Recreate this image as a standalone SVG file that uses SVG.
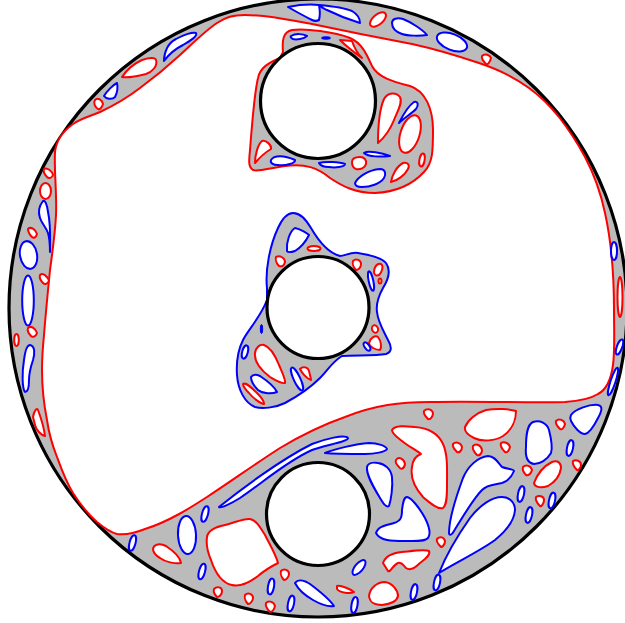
<svg xmlns="http://www.w3.org/2000/svg" width="625" height="623" viewBox="0 0 625 623">
<style>
.disc{fill:#bbb;stroke:#000;stroke-width:3.2}
.hole{fill:#fff;stroke:#000;stroke-width:3.2}
.r{fill:#fff;stroke:#f00;stroke-width:2;stroke-linejoin:round}
.b{fill:#fff;stroke:#00f;stroke-width:2;stroke-linejoin:round}
.gr{fill:#bbb;stroke:#f00;stroke-width:2}
.gb{fill:#bbb;stroke:#00f;stroke-width:2}
</style>
<rect width="625" height="623" fill="#fff"/>
<g id="disc"><circle class="disc" cx="318" cy="308" r="309"/></g>
<g id="main-region"><path class="r" d="M55,152 C56,142 62,132 73,124 C82,118 91,116 100,112 C115,105 127,98 140,88 C155,77 167,67 180,55 C193,43 205,31 217,23 C226,17 233,15 245,15 C265,15 285,19 312,24 C345,31 380,38 412,44 C435,49 458,56 479,63 C497,69 513,76 529,88 C540,96 550,106 559,117 C569,130 578,144 585,157 C595,176 601,194 605,213 C611,240 614,275 614,310 C614,330 615,350 613,365 C611,380 606,390 598,394 C590,399 580,401 565,402 C530,403 480,401 430,402 C400,402 375,405 345,417 C325,424 300,436 280,448 C255,464 230,482 207,497 C190,508 168,522 145,529 C135,533 125,535 117,534 C109,532 103,527 97,522 C88,514 80,504 73,493 C66,482 61,468 57,457 C53,447 49,434 47,420 C44,405 42,390 42,370 C42,355 43,345 44,335 C46,310 48,290 50,270 C52,255 55,235 56,215 C57,195 54,170 55,152 Z"/>
<path class="r" d="M33,417 C34,411 37,407 38,410 C41,418 44,428 45,436 C41,435 36,430 35,425 Z"/>
</g>
<g id="top-region">
<path class="gr" d="M283,52 C282,40 283,32 292,30 C305,28 335,32 350,38 C362,43 367,55 372,66 C378,78 395,82 410,86 C425,91 433,108 433,130 C433,150 433,163 424,172 C412,185 395,192 375,193 C355,193 342,186 330,178 C318,168 305,163 285,166 C270,168 258,172 253,170 C248,167 249,160 250,150 C252,125 254,95 258,78 C260,68 268,63 280,58 Z"/>
<path class="b" d="M291,36 C296,33 303,34 307,36 C304,39 296,40 293,39 C291,38 290,37 291,36 Z"/>
<ellipse cx="326" cy="38" rx="4.500" ry="1.200" fill="#00f" stroke="#00f"/>
<path class="r" d="M340,40 L352,41 C354,47 358,54 362,58 C355,53 346,46 340,40 Z"/>
<path class="r" d="M378,143 C378,125 380,108 384,99 C388,92 396,92 400,97 C403,103 397,112 394,120 C390,130 385,137 378,143 Z"/>
<path class="b" d="M399,123 C403,115 408,106 414,102 C418,101 419,105 416,109 C411,114 404,118 399,123 Z"/>
<ellipse class="r" cx="410" cy="134" rx="19.500" ry="9.500" transform="rotate(-72 410 134)"/>
<ellipse class="r" cx="422" cy="160" rx="2.600" ry="6.500" transform="rotate(10 422 160)"/>
<path class="r" d="M391,182 C392,175 397,166 403,163 C408,162 410,165 408,169 C405,175 397,181 391,182 Z"/>
<path class="b" d="M355,183 C358,177 368,170 380,169 C386,169 386,175 384,178 C380,184 370,187 362,187 C358,187 355,186 355,183 Z"/>
<path class="r" d="M352,162 C352,158 356,157 360,157 C364,157 367,160 366,164 C365,168 360,170 356,169 C353,168 352,165 352,162 Z"/>
<path class="b" d="M364,153 C368,150 382,153 390,156 C382,157 368,157 364,153 Z"/>
<path class="b" d="M319,163 C325,161 340,162 345,164 C345,167 335,168 329,167 C324,167 320,165 319,163 Z"/>
<path class="b" d="M271,160 C274,155 284,155 295,160 C296,163 286,166 278,165 C273,165 270,163 271,160 Z"/>
<path class="r" d="M255,163 C255,155 258,144 262,141 C266,140 272,145 271,149 C266,152 260,157 255,163 Z"/>
</g>
<g id="middle-region">
<path class="gb" d="M267,288 C265,270 270,245 278,228 C283,217 288,213 293,213 C300,213 305,218 311,228 C318,240 328,253 340,256 C345,256 350,252 358,253 C370,255 382,258 386,263 C391,270 388,280 383,288 C378,297 376,305 377,312 C378,322 384,332 388,340 C392,347 392,352 386,354 C375,356 355,355 342,356 C332,362 328,370 320,378 C310,388 300,395 285,403 C275,408 262,409 255,407 C245,403 238,390 237,375 C236,360 238,350 243,340 C248,330 260,318 267,300 Z"/>
<path class="b" d="M287,251 C286,242 290,231 295,228 C300,229 307,233 309,235 C306,241 300,248 295,251 C292,252 288,253 287,251 Z"/>
<ellipse class="r" cx="314" cy="248.500" rx="6.500" ry="2.500"/>
<path class="r" d="M276,257 C280,255 285,258 285,262 C284,266 282,267 279,266 C277,264 275,260 276,257 Z"/>
<path class="r" d="M353,261 C356,258 361,260 361,264 C361,268 358,270 356,270 C354,268 352,264 353,261 Z"/>
<path class="r" d="M374,272 C374,267 377,263 381,264 C384,266 382,272 379,275 C376,276 374,275 374,272 Z"/>
<ellipse class="r" cx="380" cy="281" rx="1.500" ry="2.500"/>
<ellipse class="b" cx="371" cy="281" rx="2.300" ry="10" transform="rotate(-12 371 281)"/>
<ellipse class="r" cx="375" cy="329" rx="3" ry="3.800" transform="rotate(-20 375 329)"/>
<path class="r" d="M369,343 C370,338 375,335 378,337 C381,341 382,347 380,350 C376,350 369,347 369,343 Z"/>
<ellipse class="b" cx="367" cy="346.500" rx="2.300" ry="4.800" transform="rotate(-35 367 346.500)"/>
<ellipse cx="261.500" cy="329" rx="1.200" ry="4.500" fill="#00f" stroke="#00f"/>
<ellipse class="b" cx="245" cy="352" rx="2.800" ry="6.800" transform="rotate(15 245 352)"/>
<path class="r" d="M255,353 C256,347 260,344 264,345 C270,347 275,355 279,365 C282,372 286,380 285,383 C281,384 275,380 270,377 C262,371 254,362 255,353 Z"/>
<path class="b" d="M251,377 C253,374 256,374 260,376 C266,380 274,386 277,392 C272,394 263,394 258,390 C254,386 251,381 251,377 Z"/>
<path class="r" d="M243,384 C246,382 252,388 257,393 C261,397 264,401 264,404 C261,404 253,398 249,393 C246,390 243,386 243,384 Z"/>
<ellipse class="b" cx="297" cy="379" rx="3.300" ry="12.500" transform="rotate(-25 297 379)"/>
<path class="r" d="M300,369 C303,366 308,367 309,371 C310,375 311,379 311,380 C307,379 302,373 300,369 Z"/>
</g>
<g id="ring-holes">
<path class="b" d="M164,61 C164,52 168,43 176,39 C183,35 192,32 196,33 C198,36 190,41 183,45 C175,49 169,54 164,61 Z"/>
<path class="r" d="M122,77 C126,71 133,64 142,60 C148,58 155,57 156,60 C158,66 152,72 146,74 C138,76 127,78 122,77 Z"/>
<path class="b" d="M104,96 C107,91 113,85 117,83 C118,87 117,93 115,97 C112,100 106,99 104,96 Z"/>
<path class="r" d="M95,100 C98,97 102,100 103,104 C102,107 100,110 98,109 C95,107 93,103 95,100 Z"/>
<path class="r" d="M44,169 C47,167 52,171 53,175 C52,178 49,179 47,177 C45,175 43,172 44,169 Z"/>
<ellipse class="r" cx="45.500" cy="191" rx="5.500" ry="8"/>
<path class="b" d="M50,252 C50,240 51,225 48,212 C47,204 45,200 43,201 C39,206 38,212 40,218 C42,224 46,227 48,233 C50,240 50,247 50,252 Z"/>
<path class="r" d="M28,229 C31,226 36,230 37,234 C36,237 34,239 32,237 C30,235 28,232 28,229 Z"/>
<ellipse class="b" cx="28.500" cy="255" rx="8.500" ry="14" transform="rotate(-10 28.500 255)"/>
<path class="r" d="M40,275 C43,272 48,277 49,281 C47,284 45,285 43,283 C41,281 39,278 40,275 Z"/>
<ellipse class="b" cx="28" cy="300.500" rx="5.800" ry="25"/>
<ellipse class="r" cx="16.500" cy="340" rx="2.300" ry="6"/>
<path class="r" d="M28,328 C31,325 36,329 37,333 C36,336 33,338 31,336 C29,334 27,331 28,328 Z"/>
<path class="b" d="M25,392 C22,388 22,372 24,360 C25,352 27,345 30,345 C35,346 35,353 33,360 C31,366 29,372 29,380 C29,386 28,392 25,392 Z"/>
<ellipse class="b" cx="132.500" cy="543" rx="3" ry="8" transform="rotate(15 132.500 543)"/>
<path class="r" d="M153,549 C154,544 160,543 166,546 C172,550 180,556 181,563 C175,564 165,562 160,558 C156,556 153,552 153,549 Z"/>
<ellipse class="b" cx="187" cy="535" rx="9" ry="19" transform="rotate(-3 187 535)"/>
<ellipse class="b" cx="205" cy="514" rx="3" ry="8" transform="rotate(15 205 514)"/>
<ellipse class="b" cx="202" cy="571.500" rx="3" ry="8" transform="rotate(15 202 571.500)"/>
<path class="r" d="M207,537 C208,530 215,527 225,525 C235,523 243,518 250,519 C256,520 260,527 265,535 C270,545 276,555 278,563 C272,566 265,570 258,576 C250,582 240,587 232,585 C222,583 215,572 211,560 C208,553 206,544 207,537 Z"/>
<path class="r" d="M214,589 C217,586 222,587 222,591 C222,595 219,597 217,597 C215,595 213,592 214,589 Z"/>
<path class="r" d="M245,595 C248,592 253,594 253,598 C253,601 250,604 248,604 C246,602 244,598 245,595 Z"/>
<ellipse class="b" cx="271" cy="586.500" rx="3" ry="8" transform="rotate(10 271 586.500)"/>
<path class="r" d="M281,571 C284,568 289,570 289,574 C289,577 286,580 284,580 C282,578 280,574 281,571 Z"/>
<path class="r" d="M266,603 C269,600 274,602 275,606 C274,610 272,612 270,612 C268,610 265,606 266,603 Z"/>
<ellipse class="b" cx="291" cy="603.500" rx="3" ry="8" transform="rotate(12 291 603.500)"/>
<path class="b" d="M219,507 C240,490 280,460 312,444 C325,439 345,434 348,438 C348,442 325,445 312,450 C285,462 260,485 240,498 C232,503 220,509 219,507 Z"/>
<path class="b" d="M325,453 C335,449 355,444 369,443 C378,443 386,446 387,449 C385,452 375,454 365,454 C350,454 335,454 325,453 Z"/>
<path class="b" d="M367,467 C368,463 373,462 378,463 C385,464 391,469 392,477 C393,487 391,500 389,506 C386,508 383,503 380,498 C374,488 366,475 367,467 Z"/>
<path class="r" d="M396,460 C399,456 404,459 405,464 C404,469 401,470 399,467 C397,465 395,462 396,460 Z"/>
<path class="b" d="M376,533 C378,526 387,525 394,523 C401,521 402,517 402,510 C403,502 404,497 407,497 C412,498 420,509 425,518 C429,526 431,534 428,538 C424,542 415,541 405,541 C392,541 380,541 376,533 Z"/>
<path class="r" d="M392,430 C395,425 405,426 415,427 C428,428 438,433 443,444 C448,455 447,470 447,485 C447,495 447,505 443,508 C438,510 430,503 423,497 C415,488 410,478 412,467 C413,458 418,455 421,454 C416,450 408,446 402,441 C397,437 392,434 392,430 Z"/>
<path class="r" d="M437,539 C440,536 444,537 445,541 C445,545 442,547 441,547 C439,545 436,541 437,539 Z"/>
<path class="r" d="M424,411 C427,408 432,409 433,413 C433,417 430,420 428,419 C426,417 423,414 424,411 Z"/>
<path class="r" d="M383,563 C385,557 392,553 402,552 C412,551 425,549 429,551 C431,555 425,559 420,563 C415,568 410,571 406,568 C403,565 402,562 398,563 C393,565 390,573 388,571 Z"/>
<ellipse class="b" cx="359" cy="567.500" rx="4" ry="9" transform="rotate(40 359 567.500)"/>
<path class="r" d="M337,586 C341,585 350,589 354,592 C350,594 340,593 337,589 Z"/>
<path class="b" d="M295,583 C298,579 304,580 310,584 C318,590 330,600 334,606 C328,607 320,604 313,600 C306,596 298,589 295,583 Z"/>
<path class="r" d="M369,596 C370,588 377,582 385,582 C392,583 398,590 398,596 C397,602 390,604 382,605 C376,605 370,604 369,596 Z"/>
<ellipse class="b" cx="414" cy="592" rx="3" ry="8" transform="rotate(12 414 592)"/>
<ellipse class="b" cx="354.500" cy="605" rx="3" ry="8" transform="rotate(10 354.500 605)"/>
<ellipse class="b" cx="437" cy="582.500" rx="3" ry="8" transform="rotate(12 437 582.500)"/>
<path class="b" d="M439,573 C445,558 458,535 470,518 C480,505 492,497 502,497 C510,497 515,503 515,510 C514,522 505,532 495,540 C480,551 455,563 439,573 Z"/>
<path class="b" d="M449,533 C449,520 456,497 463,478 C468,466 478,457 488,456 C495,456 498,463 502,467 C507,469 514,469 514,471 C512,476 508,481 502,483 C495,485 488,484 482,490 C473,499 462,518 454,531 C452,535 449,536 449,533 Z"/>
<path class="r" d="M465,427 C468,420 476,413 486,410 C497,408 510,409 516,411 C516,420 512,430 503,436 C495,441 482,442 474,438 C468,435 464,432 465,427 Z"/>
<path class="r" d="M453,444 C456,441 461,443 462,447 C462,451 459,453 457,452 C455,450 452,447 453,444 Z"/>
<path class="r" d="M473,446 C476,443 481,445 482,450 C482,454 479,456 477,455 C475,453 472,449 473,446 Z"/>
<path class="r" d="M501,443 C504,441 509,443 510,447 C509,451 507,453 505,452 C503,450 500,446 501,443 Z"/>
<path class="b" d="M526,447 C526,435 527,425 533,422 C540,420 547,423 549,430 C551,438 553,447 551,453 C547,460 540,464 534,464 C528,463 525,457 526,447 Z"/>
<path class="r" d="M556,421 C559,418 564,420 565,424 C564,428 562,430 560,429 C558,427 555,424 556,421 Z"/>
<path class="b" d="M571,415 C575,409 590,404 598,405 C603,406 602,411 598,418 C594,426 590,433 585,434 C580,434 574,427 571,421 C570,419 570,417 571,415 Z"/>
<ellipse class="b" cx="570" cy="448" rx="3" ry="8" transform="rotate(12 570 448)"/>
<path class="r" d="M523,467 C526,464 531,466 532,470 C531,474 528,476 526,475 C524,473 522,470 523,467 Z"/>
<path class="r" d="M534,483 C537,475 542,467 552,462 C558,460 561,463 561,468 C560,475 555,482 548,486 C542,488 535,488 534,483 Z"/>
<path class="r" d="M573,461 C576,459 581,461 581,465 C581,468 578,471 577,470 C575,468 572,464 573,461 Z"/>
<ellipse class="b" cx="521" cy="494" rx="3" ry="8" transform="rotate(12 521 494)"/>
<ellipse class="b" cx="529" cy="515" rx="3" ry="8" transform="rotate(12 529 515)"/>
<path class="r" d="M536,497 C539,495 544,496 544,500 C544,504 541,507 540,506 C538,504 535,500 536,497 Z"/>
<ellipse class="b" cx="552" cy="500.500" rx="3" ry="8" transform="rotate(12 552 500.500)"/>
<path class="b" d="M288,7 C298,5 310,4 319,5 C320,10 320,16 319,20 C317,21 314,21 312,20 C304,16 295,11 288,7 Z"/>
<path class="b" d="M319,5 C330,6 345,8 352,11 C357,14 360,19 360,23 C350,20 335,14 327,10 C323,8 320,7 319,5 Z"/>
<ellipse class="r" cx="378" cy="19.500" rx="5" ry="9.500" transform="rotate(50 378 19.500)"/>
<path class="b" d="M392,23 C392,19 397,17 403,19 C411,22 423,30 427,35 C420,36 408,36 402,34 C396,32 392,28 392,23 Z"/>
<ellipse class="b" cx="452" cy="42" rx="16" ry="8" transform="rotate(22 452 42)"/>
<path class="r" d="M482,56 C485,53 490,55 491,58 C490,62 488,65 486,64 C484,62 481,59 482,56 Z"/>
<ellipse class="b" cx="614" cy="251" rx="3" ry="9"/>
<ellipse class="r" cx="620" cy="297" rx="2.500" ry="20"/>
<ellipse class="b" cx="619.500" cy="347" rx="2.700" ry="8" transform="rotate(20 619.500 347)"/>
<ellipse class="b" cx="613" cy="381.500" rx="2.500" ry="14.500" transform="rotate(18 613 381.500)"/>
</g>
<g id="holes">
<circle class="hole" cx="318" cy="101" r="57.500"/>
<circle class="hole" cx="318" cy="307.500" r="51"/>
<circle class="hole" cx="318" cy="514" r="51.500"/>
</g>
</svg>
